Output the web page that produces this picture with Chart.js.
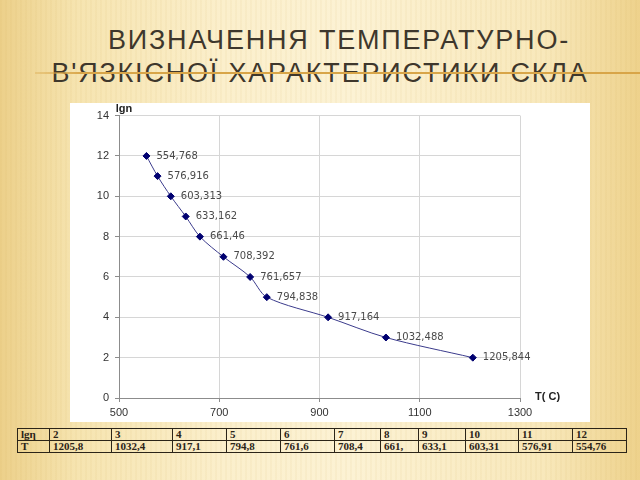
<!DOCTYPE html>
<html lang="uk">
<head>
  <meta charset="UTF-8">
  <title>Визначення температурно-в'язкісної характеристики скла</title>
  <script src="https://cdn.jsdelivr.net/npm/chart.js@4/dist/chart.umd.js"></script>
  <style>
    html, body { margin: 0; padding: 0; }
    body {
      width: 640px; height: 480px; overflow: hidden; position: relative;
      background:
        repeating-linear-gradient(90deg, rgba(200,160,70,0.06) 0 2px, rgba(255,255,255,0) 2px 5px),
        linear-gradient(to right, #ecd08a 0%, #f6e4b0 12%, #fbefcc 35%, #fcf2d4 55%, #f8e8bb 85%, #eed28c 100%);
    }
    #title {
      position: absolute; left: 0; top: 24px; width: 640px; text-align: center;
      font: 27px "Liberation Sans", Arial, sans-serif; line-height: 33px; color: #3e372c;
      letter-spacing: 1.8px;
    }
    #title .l1 { position: relative; left: 19px; }
    #rule {
      position: absolute; left: 35px; top: 72px; width: 605px; height: 2px;
      background: linear-gradient(to right, rgba(214,160,60,0.3), #d8a548 8%, #d8a548);
    }
    #box { position: absolute; left: 70px; top: 103px; width: 520px; height: 319px; background: #fff; }
    #data {
      position: absolute; left: 17px; top: 428px; border-collapse: collapse;
      font: bold 11px "Liberation Serif", "Times New Roman", serif; color: #2b2418;
    }
    #data td { border: 1px solid #2b2418; height: 11px; padding: 0 3px; line-height: 11px; }
  </style>
</head>
<body>
  <div id="title"><span class="l1">ВИЗНАЧЕННЯ ТЕМПЕРАТУРНО-</span><br>В'ЯЗКІСНОЇ ХАРАКТЕРИСТИКИ СКЛА</div>
  <div id="rule"></div>
  <div id="box"><canvas id="viscChart" width="520" height="319"></canvas></div>
  <table id="data">
    <tr id="rowLg"></tr>
    <tr id="rowT"></tr>
  </table>
  <script>
    // точки кривої: температура T (°C) та lgη
    const temps = [554.768, 576.916, 603.313, 633.162, 661.46, 708.392, 761.657, 794.838, 917.164, 1032.488, 1205.844];
    const lgEta = [12, 11, 10, 9, 8, 7, 6, 5, 4, 3, 2];
    const pointLabels = ['554,768', '576,916', '603,313', '633,162', '661,46', '708,392', '761,657', '794,838', '917,164', '1032,488', '1205,844'];

    // таблиця під графіком
    const tableLg = ['2', '3', '4', '5', '6', '7', '8', '9', '10', '11', '12'];
    const tableT = ['1205,8', '1032,4', '917,1', '794,8', '761,6', '708,4', '661,', '633,1', '603,31', '576,91', '554,76'];
    const colWidths = [32, 62, 61, 54, 54, 54, 46, 38, 47, 53, 54, 54];

    const rowLg = document.getElementById('rowLg');
    const rowT = document.getElementById('rowT');
    ['lgη'].concat(tableLg).forEach((v, i) => {
      const td = document.createElement('td');
      td.textContent = v; td.style.width = (colWidths[i] - 7) + 'px';
      rowLg.appendChild(td);
    });
    ['T'].concat(tableT).forEach(v => {
      const td = document.createElement('td');
      td.textContent = v;
      rowT.appendChild(td);
    });

    const labelsPlugin = {
      id: 'pointText',
      afterDatasetsDraw(chart) {
        const ctx = chart.ctx;
        const meta = chart.getDatasetMeta(0);
        ctx.save();
        ctx.font = '10px "DejaVu Sans", Verdana, sans-serif';
        ctx.fillStyle = '#4a4a4a';
        ctx.textBaseline = 'middle';
        meta.data.forEach((p, i) => ctx.fillText(pointLabels[i], p.x + 10, p.y));
        // підписи осей
        const a = chart.chartArea;
        ctx.font = 'bold 11px "Liberation Sans", Arial, sans-serif';
        ctx.fillStyle = '#222';
        ctx.textAlign = 'center';
        ctx.fillText('lgn', a.left + 5, a.top - 7);
        ctx.textAlign = 'left';
        ctx.fillText('T( C)', a.right + 15, a.bottom - 1);
        ctx.restore();
      }
    };

    const tickFont = { family: '"Liberation Sans", Arial, sans-serif', size: 11 };

    new Chart(document.getElementById('viscChart'), {
      type: 'line',
      data: {
        datasets: [{
          data: temps.map((t, i) => ({ x: t, y: lgEta[i] })),
          borderColor: '#3b3b8c',
          borderWidth: 1,
          tension: 0.3,
          pointStyle: 'rectRot',
          pointRadius: 3.5,
          pointBackgroundColor: '#000070',
          pointBorderColor: '#000070',
          fill: false
        }]
      },
      options: {
        responsive: false,
        animation: false,
        layout: { padding: { left: 0, top: 11, right: 70, bottom: 0 } },
        plugins: { legend: { display: false }, tooltip: { enabled: false } },
        scales: {
          x: {
            type: 'linear', min: 500, max: 1300,
            ticks: { stepSize: 200, color: '#333', font: tickFont, padding: 4, maxRotation: 0,
                     callback: v => String(v) },
            grid: { color: '#d6d6d6', tickLength: 4, tickColor: '#8c8c8c' },
            border: { color: '#8c8c8c' },
            afterFit(scale) { scale.height = 24; }
          },
          y: {
            min: 0, max: 14,
            ticks: { stepSize: 2, color: '#333', font: tickFont, padding: 6 },
            grid: { color: '#d6d6d6', tickLength: 4, tickColor: '#8c8c8c' },
            border: { color: '#8c8c8c' },
            afterFit(scale) { scale.width = 49; }
          }
        }
      },
      plugins: [labelsPlugin]
    });
  </script>
</body>
</html>
